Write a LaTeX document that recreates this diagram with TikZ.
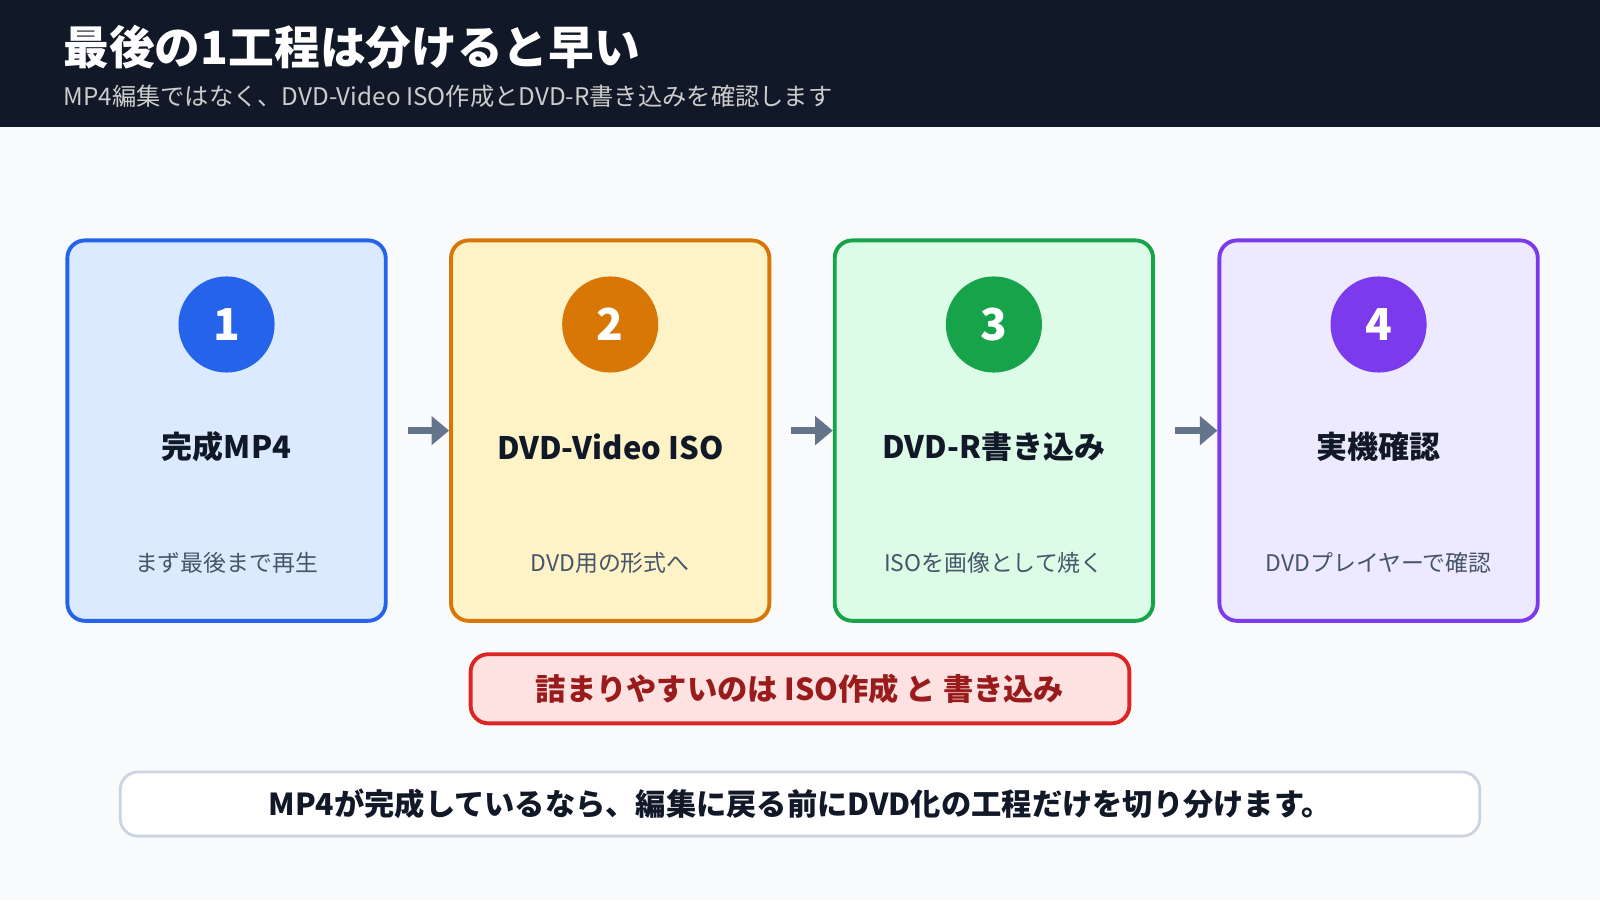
\documentclass[tikz,border=0pt]{standalone}
\usepackage{fontspec}
\setmainfont{Noto Sans CJK JP}
\usetikzlibrary{positioning}
\usetikzlibrary{arrows.meta}
\definecolor{kopf}{HTML}{111827}
\definecolor{grund}{HTML}{F8FAFC}
\definecolor{pfeilgrau}{HTML}{64748B}
\definecolor{textgrau}{HTML}{475569}
\definecolor{blauR}{HTML}{2563EB}\definecolor{blauF}{HTML}{DBEAFE}
\definecolor{orangeR}{HTML}{D97706}\definecolor{orangeF}{HTML}{FEF3C7}
\definecolor{gruenR}{HTML}{16A34A}\definecolor{gruenF}{HTML}{DCFCE7}
\definecolor{lilaR}{HTML}{7C3AED}\definecolor{lilaF}{HTML}{EDE9FE}
\tikzset{
  Karte/.style={draw=#1R, fill=#1F, line width=1.1pt, rounded corners=5pt,
    minimum width=3.18cm, minimum height=3.8cm, inner sep=0pt},
  Kreis/.style={circle, fill=#1R, minimum size=0.96cm, inner sep=0pt,
    text=white, font=\bfseries\fontsize{12.5}{14}\selectfont},
  Titel/.style={font=\bfseries\fontsize{8.8}{10}\selectfont, text=kopf},
  Unter/.style={font=\fontsize{6.5}{8}\selectfont, text=textgrau},
  Pfeil/.style={pfeilgrau, line width=2.2pt, -{Triangle[length=5pt,width=8pt]}}
}
\begin{document}
\begin{tikzpicture}[x=0.0102cm, y=-0.0102cm]
\useasboundingbox (0,0) rectangle (1568,882);
\fill[grund] (0,0) rectangle (1568,882);
\fill[kopf] (0,0) rectangle (1568,124);
\node[anchor=west, text=white, font=\bfseries\fontsize{13}{15}\selectfont] (kopftitel) at (50,46) {最後の1工程は分けると早い};
\node[anchor=west, text=gray!40, font=\fontsize{6.9}{8}\selectfont] (kopfunter) at (50,94) {MP4編集ではなく、DVD-Video ISO作成とDVD-R書き込みを確認します};

%Karten
\foreach \n/\x/\f/\t/\u in {1/222/blau/完成MP4/まず最後まで再生,
  2/598/orange/DVD-Video ISO/DVD用の形式へ,
  3/974/gruen/DVD-R書き込み/ISOを画像として焼く,
  4/1351/lila/実機確認/DVDプレイヤーで確認}{
  \node[Karte=\f] (K\n) at (\x,422) {};
  \node[Kreis=\f] (N\n) at (\x,318) {\n};
  \node[Titel] (T\n) at (\x,438) {\t};
  \node[Unter] (U\n) at (\x,552) {\u};
}

%Pfeile
\foreach \a/\b in {1/2,2/3,3/4}
  \draw[Pfeil] ([xshift=0.2cm]K\a.east) -- (K\b.west);

%Hinweise
\node[draw={rgb,255:red,220;green,38;blue,38}, fill={rgb,255:red,254;green,226;blue,226}, line width=1.1pt, rounded corners=5pt,
  minimum width=6.58cm, minimum height=0.69cm, text={rgb,255:red,153;green,27;blue,27},
  font=\bfseries\fontsize{8.6}{10}\selectfont] (warnung) at (784,675) {詰まりやすいのは ISO作成 と 書き込み};
\node[draw={rgb,255:red,203;green,213;blue,225}, fill=white, line width=0.8pt, rounded corners=5pt,
  minimum width=13.58cm, minimum height=0.64cm, text=kopf,
  font=\bfseries\fontsize{8.6}{10}\selectfont] (fazit) at (784,788) {MP4が完成しているなら、編集に戻る前にDVD化の工程だけを切り分けます。};
\end{tikzpicture}
\end{document}
